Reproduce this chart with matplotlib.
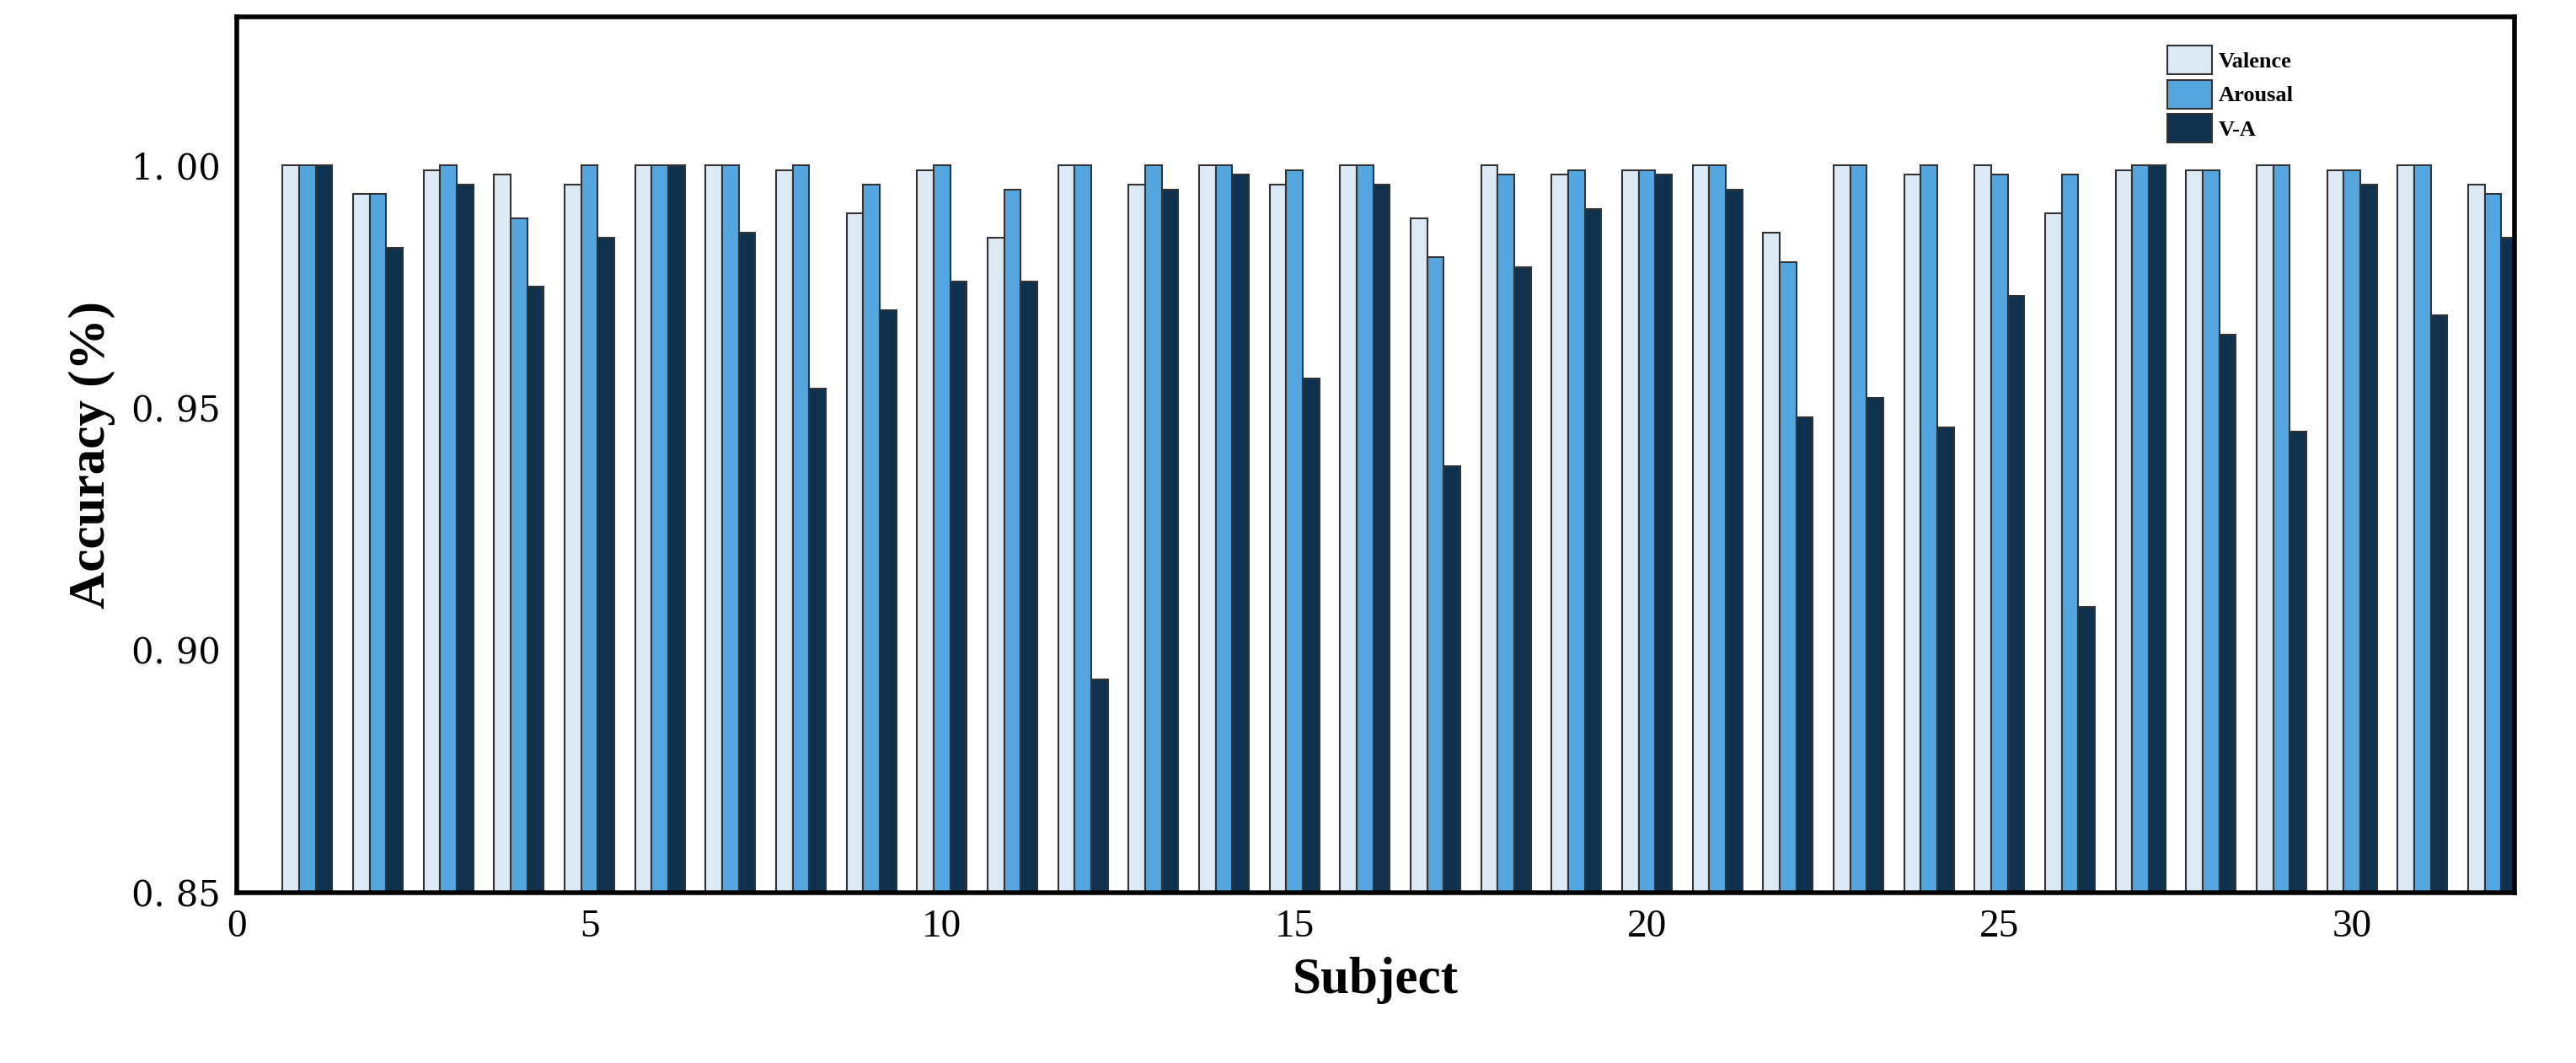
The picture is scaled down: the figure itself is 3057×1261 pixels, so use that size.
import matplotlib
matplotlib.use("Agg")
import matplotlib.pyplot as plt
import numpy as np
from matplotlib.ticker import FuncFormatter

subjects = list(range(1, 33))
valence = [1.0, .994, .999, .998, .996, 1.0, 1.0, .999, .990, .999, .985, 1.0, .996, 1.0, .996, 1.0,
           .989, 1.0, .998, .999, 1.0, .986, 1.0, .998, 1.0, .990, .999, .999, 1.0, .999, 1.0, .996]
arousal = [1.0, .994, 1.0, .989, 1.0, 1.0, 1.0, 1.0, .996, 1.0, .995, 1.0, 1.0, 1.0, .999, 1.0,
           .981, .998, .999, .999, 1.0, .980, 1.0, 1.0, .998, .998, 1.0, .999, 1.0, .999, 1.0, .994]
va = [1.0, .983, .996, .975, .985, 1.0, .986, .954, .970, .976, .976, .894, .995, .998, .956, .996,
      .938, .979, .991, .998, .995, .948, .952, .946, .973, .909, 1.0, .965, .945, .996, .969, .985]

fig = plt.figure(figsize=(30.57, 12.61), dpi=100)
ax = fig.add_axes([0.092, 0.16, 0.884, 0.824])
x = np.array(subjects)
w = 0.235
cols = ["#dbeaf4", "#54a6e0", "#0e324e"]
for k, (vals, lab) in enumerate([(valence, "Valence"), (arousal, "Arousal"), (va, "V-A")]):
    ax.bar(x + (k - 1) * w, vals, w, color=cols[k], edgecolor="#333333", linewidth=1.5, label=lab)

ax.set_xlim(0, 32.3)
ax.set_ylim(0.85, 1.0305)
ax.set_yticks([0.85, 0.90, 0.95, 1.00])
ax.yaxis.set_major_formatter(FuncFormatter(lambda v, p: f"{v:.2f}".replace(".", ". ")))
ax.set_xticks([0, 5, 10, 15, 20, 25, 30])
ax.tick_params(length=0, pad=14)
for t in ax.get_yticklabels():
    t.set_fontfamily("DejaVu Serif"); t.set_fontsize(30)
for t in ax.get_xticklabels():
    t.set_fontfamily("Liberation Serif"); t.set_fontsize(34)
for s in ax.spines.values():
    s.set_linewidth(4)
ax.set_xlabel("Subject", fontsize=44, fontweight="bold", family="Liberation Serif", labelpad=10)
ax.set_ylabel("Accuracy (%)", fontsize=44, fontweight="bold", family="Liberation Serif", labelpad=14)
ax.legend(loc="upper right", bbox_to_anchor=(0.912, 0.99), frameon=False,
          prop={"family": "Liberation Serif", "weight": "bold", "size": 19},
          handlelength=2.0, handleheight=1.6, labelspacing=0.25, handletextpad=0.3)
fig.savefig("out.png", dpi=100)
